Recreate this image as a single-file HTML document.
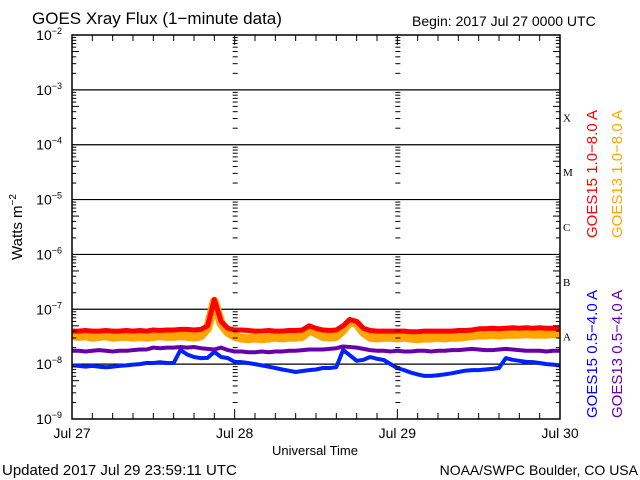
<!DOCTYPE html>
<html><head><meta charset="utf-8"><style>
html,body{margin:0;padding:0;background:#fff}
svg{display:block;font-family:"Liberation Sans",sans-serif}
</style></head><body>
<svg id="c" width="640" height="480" viewBox="0 0 640 480">
<text x="32" y="24" font-size="17">GOES Xray Flux (1−minute data)</text>
<text x="412" y="26" font-size="14">Begin:  2017 Jul 27 0000 UTC</text>
<text transform="translate(22,227) rotate(-90)" text-anchor="middle" font-size="15">Watts m<tspan font-size="10" dy="-6">−2</tspan></text>
<text x="315" y="455" text-anchor="middle" font-size="13">Universal Time</text>
<text x="2" y="475" font-size="15">Updated 2017 Jul 29 23:59:11 UTC</text>
<text x="638" y="475" text-anchor="end" font-size="14">NOAA/SWPC Boulder, CO USA</text>
<text transform="translate(597,238) rotate(-90)" font-size="15" fill="#ff0000">GOES15 1.0−8.0 A</text>
<text transform="translate(622,238) rotate(-90)" font-size="15" fill="#ffa500">GOES13 1.0−8.0 A</text>
<text transform="translate(597,418) rotate(-90)" font-size="15" fill="#0000ff">GOES15 0.5−4.0 A</text>
<text transform="translate(622,418) rotate(-90)" font-size="15" fill="#6600aa">GOES13 0.5−4.0 A</text>
<g id="grid"></g><g id="series"></g><g id="axes"></g>
</svg>
<script>
const yDecades=[-2,-3,-4,-5,-6,-7,-8,-9];
const xLabels=["Jul 27","Jul 28","Jul 29","Jul 30"];
const classLetters=["X","M","C","B","A"];
// hourly values, 0..72 h from 2017 Jul 27 00:00
const goes15Long=[4.0e-8,4.0e-8,4.1e-8,4.0e-8,4.0e-8,4.1e-8,4.0e-8,4.0e-8,4.1e-8,4.0e-8,4.1e-8,4.0e-8,4.2e-8,4.1e-8,4.2e-8,4.2e-8,4.3e-8,4.3e-8,4.2e-8,4.3e-8,5.0e-8,1.5e-7,6.0e-8,4.5e-8,4.2e-8,4.2e-8,4.1e-8,4.0e-8,4.0e-8,4.1e-8,4.0e-8,4.0e-8,4.1e-8,4.1e-8,4.2e-8,5.0e-8,4.5e-8,4.2e-8,4.1e-8,4.2e-8,5.0e-8,6.5e-8,6.0e-8,4.5e-8,4.1e-8,4.0e-8,4.0e-8,4.0e-8,4.0e-8,4.0e-8,3.9e-8,3.9e-8,4.0e-8,4.0e-8,4.0e-8,4.0e-8,4.0e-8,4.1e-8,4.1e-8,4.2e-8,4.4e-8,4.4e-8,4.5e-8,4.4e-8,4.5e-8,4.6e-8,4.5e-8,4.6e-8,4.5e-8,4.6e-8,4.5e-8,4.5e-8,4.4e-8];
const goes13Long=[3.3e-8,3.2e-8,3.3e-8,3.1e-8,3.2e-8,3.3e-8,3.1e-8,3.2e-8,3.2e-8,3.1e-8,3.2e-8,3.1e-8,3.2e-8,3.3e-8,3.2e-8,3.2e-8,3.3e-8,3.2e-8,3.1e-8,3.3e-8,4.5e-8,1.4e-7,5.5e-8,3.8e-8,3.2e-8,3.0e-8,2.9e-8,3.0e-8,2.9e-8,3.0e-8,3.1e-8,3.0e-8,3.1e-8,3.1e-8,3.2e-8,4.2e-8,3.7e-8,3.2e-8,3.1e-8,3.2e-8,4.2e-8,6.0e-8,5.5e-8,3.8e-8,3.1e-8,3.0e-8,3.1e-8,3.1e-8,3.0e-8,3.1e-8,3.0e-8,2.9e-8,3.0e-8,3.0e-8,3.1e-8,3.0e-8,3.1e-8,3.1e-8,3.2e-8,3.3e-8,3.4e-8,3.4e-8,3.5e-8,3.4e-8,3.5e-8,3.5e-8,3.5e-8,3.6e-8,3.5e-8,3.5e-8,3.5e-8,3.6e-8,3.5e-8];
const goes13Short=[1.75e-8,1.75e-8,1.7e-8,1.75e-8,1.8e-8,1.75e-8,1.7e-8,1.75e-8,1.75e-8,1.8e-8,1.85e-8,1.85e-8,2.0e-8,1.95e-8,2.0e-8,2.0e-8,2.05e-8,2.0e-8,2.05e-8,1.95e-8,1.9e-8,1.85e-8,2.0e-8,1.8e-8,1.7e-8,1.7e-8,1.65e-8,1.65e-8,1.7e-8,1.65e-8,1.7e-8,1.7e-8,1.75e-8,1.75e-8,1.8e-8,1.85e-8,1.85e-8,1.85e-8,1.9e-8,1.95e-8,2.1e-8,2.05e-8,2.0e-8,1.9e-8,1.8e-8,1.75e-8,1.75e-8,1.7e-8,1.75e-8,1.7e-8,1.7e-8,1.75e-8,1.75e-8,1.7e-8,1.75e-8,1.75e-8,1.8e-8,1.8e-8,1.85e-8,1.9e-8,1.85e-8,1.8e-8,1.8e-8,1.85e-8,1.9e-8,1.85e-8,1.8e-8,1.75e-8,1.75e-8,1.75e-8,1.7e-8,1.75e-8,1.75e-8];
const goes15Short=[9.5e-9,9.3e-9,9.0e-9,9.3e-9,9.0e-9,8.8e-9,9.0e-9,9.3e-9,9.5e-9,9.8e-9,1.0e-8,1.05e-8,1.05e-8,1.08e-8,1.05e-8,1.05e-8,1.81e-8,1.5e-8,1.35e-8,1.29e-8,1.3e-8,1.67e-8,1.35e-8,1.29e-8,1.1e-8,1.09e-8,1.05e-8,1.0e-8,9.5e-9,9.0e-9,8.5e-9,8.0e-9,7.6e-9,7.2e-9,7.5e-9,7.8e-9,8.0e-9,8.5e-9,8.5e-9,8.8e-9,1.81e-8,1.45e-8,1.15e-8,1.2e-8,1.35e-8,1.25e-8,1.19e-8,1.0e-8,8.5e-9,7.8e-9,7.0e-9,6.5e-9,6.1e-9,6.1e-9,6.3e-9,6.5e-9,6.8e-9,7.2e-9,7.6e-9,7.8e-9,7.8e-9,8.0e-9,8.2e-9,8.5e-9,1.29e-8,1.2e-8,1.15e-8,1.1e-8,1.09e-8,1.05e-8,1.0e-8,9.8e-9,9.5e-9];

const X0=72,X1=560,Y0=35,Y1=419,HOURS=72;
const NS="http://www.w3.org/2000/svg";
function xs(h){return X0+(X1-X0)*h/HOURS;}
function ys(v){return Y0+(-2-Math.log10(v))*(Y1-Y0)/7;}
function mk(tag,attrs,parent){const e=document.createElementNS(NS,tag);for(const k in attrs)e.setAttribute(k,attrs[k]);parent.appendChild(e);return e;}
const grid=document.getElementById('grid'),axes=document.getElementById('axes'),ser=document.getElementById('series');

yDecades.forEach((d,i)=>{
  const y=ys(Math.pow(10,d));
  if(i>0&&i<yDecades.length-1){
    const l=mk('line',{x1:X0,x2:X1,y1:y,y2:y,stroke:'#000','stroke-width':1.2},grid);
    
    
  }
  const t=mk('text',{x:62,y:y+5,'text-anchor':'end','font-size':14},axes);
  
  
  t.textContent='10';
  const s=mk('tspan',{dy:-6,'font-size':9},t);s.textContent='−'+(-d);
});
const tickXs=[[X0,0,7],[X1,-7,0],[xs(24),-2,3],[xs(48),-2,3]];
for(let d=-9;d<-2;d++){
  for(let m=2;m<=9;m++){
    const y=ys(m*Math.pow(10,d));
    tickXs.forEach(([x,a,b],j)=>{
      const aa=j<2?a*(m===5?1:0.6):a, bb=j<2?b*(m===5?1:0.6):b;
      mk('line',{x1:x+aa,x2:x+bb,y1:y,y2:y,stroke:'#000','stroke-width':1},axes);
    });
  }
}
for(let h=3;h<HOURS;h+=3){
  const x=xs(h),L=h%24===0?10:6;
  mk('line',{x1:x,x2:x,y1:Y1,y2:Y1-L,stroke:'#000','stroke-width':1},axes);
  mk('line',{x1:x,x2:x,y1:Y0,y2:Y0+L,stroke:'#000','stroke-width':1},axes);
}
xLabels.forEach((s,i)=>{
  const t=mk('text',{x:xs(i*24),y:438,'text-anchor':'middle','font-size':14},axes);
  
  
  t.textContent=s;
});
classLetters.forEach((s,i)=>{
  const y=(ys(Math.pow(10,-3-i))+ys(Math.pow(10,-4-i)))/2;
  const t=mk('text',{x:563,y:y+4,'font-size':11,'font-family':'Liberation Serif, serif'},axes);
  
  
  t.textContent=s;
});
const frame=mk('rect',{x:X0,y:Y0,width:X1-X0,height:Y1-Y0,fill:'none',stroke:'#000','stroke-width':1.5},axes);



function line(arr,color,w,name){
  const p=arr.map((v,i)=>(i?'L':'M')+xs(i).toFixed(1)+','+ys(v).toFixed(1)).join('');
  const e=mk('path',{d:p,fill:'none',stroke:color,'stroke-width':w,'stroke-linejoin':'round'},ser);
  
  
}
line(goes15Short,'#0022ff',4,'series-goes15-short');
line(goes13Short,'#6600aa',4,'series-goes13-short');
line(goes13Long,'#ffa500',9,'series-goes13-long');
line(goes15Long,'#ff0000',5,'series-goes15-long');
</script>
</body></html>
